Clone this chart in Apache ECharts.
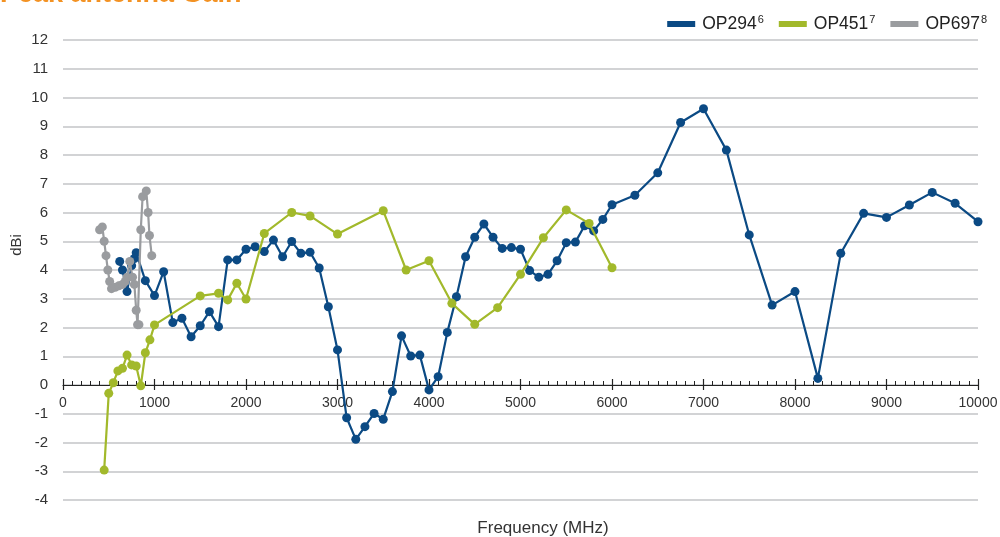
<!DOCTYPE html>
<html>
<head>
<meta charset="utf-8">
<script src="https://cdn.jsdelivr.net/npm/echarts@6/dist/echarts.min.js"></script>
<style>
  html, body { margin: 0; padding: 0; background: #fff; }
  #chart { width: 1000px; height: 537px; }
</style>
</head>
<body>
<div id="chart"></div>
<script>
// frequency in MHz, gain in dBi
const op294Freq = [620, 650, 700, 750, 780, 800, 900, 1000, 1100, 1200, 1300, 1400, 1500, 1600, 1700, 1800, 1900, 2000,
  2100, 2200, 2300, 2400, 2500, 2600, 2700, 2800, 2900, 3000, 3100, 3200, 3300, 3400, 3500, 3600, 3700, 3800, 3900, 4000,
  4100, 4200, 4300, 4400, 4500, 4600, 4700, 4800, 4900, 5000, 5100, 5200, 5300, 5400, 5500, 5600, 5700, 5800, 5900, 6000,
  6250, 6500, 6750, 7000, 7250, 7500, 7750, 8000, 8250, 8500, 8750, 9000, 9250, 9500, 9750, 10000]
const op294Gain = [4.3, 4.0, 3.25, 4.15, 4.4, 4.6, 3.63, 3.11, 3.94, 2.17, 2.32, 1.68, 2.06, 2.55, 2.03, 4.35, 4.35, 4.72,
  4.81, 4.64, 5.04, 4.46, 4.99, 4.58, 4.62, 4.07, 2.72, 1.22, -1.14, -1.89, -1.45, -0.99, -1.19, -0.23, 1.71, 1.01, 1.04, -0.17,
  0.29, 1.83, 3.07, 4.46, 5.14, 5.6, 5.14, 4.75, 4.78, 4.72, 3.98, 3.75, 3.85, 4.32, 4.95, 4.97, 5.54, 5.36, 5.76, 6.27,
  6.6, 7.38, 9.13, 9.61, 8.17, 5.22, 2.78, 3.25, 0.23, 4.58, 5.97, 5.83, 6.26, 6.7, 6.32, 5.68]

const op451Freq = [450, 500, 550, 600, 650, 700, 750, 800, 850, 900, 950, 1000, 1500, 1700, 1800, 1900, 2000, 2200, 2500,
  2700, 3000, 3500, 3750, 4000, 4250, 4500, 4750, 5000, 5250, 5500, 5750, 6000]
const op451Gain = [-2.96, -0.29, 0.08, 0.49, 0.58, 1.04, 0.7, 0.66, -0.03, 1.12, 1.57, 2.09, 3.1, 3.19, 2.96, 3.54, 2.99, 5.27, 6.0,
  5.88, 5.25, 6.06, 4.0, 4.32, 2.84, 2.11, 2.69, 3.85, 5.12, 6.09, 5.62, 4.08]

const op697Freq = [400, 430, 450, 470, 490, 510, 530, 570, 610, 650, 680, 700, 730, 760, 780, 800, 815, 830, 850, 870, 910, 930, 945, 970]
const op697Gain = [5.4, 5.5, 5.0, 4.5, 4.0, 3.6, 3.35, 3.4, 3.45, 3.5, 3.6, 3.75, 4.3, 3.75, 3.5, 2.6, 2.1, 2.1, 5.4, 6.55, 6.75, 6.0, 5.2, 4.5]

const seriesNames = ['OP294', 'OP451', 'OP697']
const seriesNotes = ['6', '7', '8']
const seriesColors = ['#0b4a84', '#a2b92b', '#9a9c9f']

const zip = (xs, ys) => xs.map((x, i) => [x, ys[i]])
const dataSets = [zip(op294Freq, op294Gain), zip(op451Freq, op451Gain), zip(op697Freq, op697Gain)]

const yMin = -4
const yMax = 12
const gridTop = 40
const gridBottom = 37
const chartHeight = 537
// x axis drawn at gain 0: shift it up from the grid bottom
const zeroOffset = -(0 - yMin) / (yMax - yMin) * (chartHeight - gridTop - gridBottom)

const chart = echarts.init(document.getElementById('chart'))
const fontFamily = '"Liberation Sans", Arial, sans-serif'

chart.setOption({
  animation: false,
  textStyle: { fontFamily: fontFamily },
  graphic: [{
    // title sits mostly above the visible area
    type: 'text',
    x: 0,
    y: -19,
    z: 100,
    style: {
      text: 'Peak antenna Gain',
      fill: '#f39223',
      font: 'bold 27px ' + fontFamily,
      verticalAlign: 'top'
    }
  }, {
    type: 'text',
    x: 543,
    y: 528,
    style: {
      text: 'Frequency (MHz)',
      fill: '#333',
      font: '17px ' + fontFamily,
      align: 'center',
      verticalAlign: 'middle'
    }
  }, {
    type: 'text',
    x: 17,
    y: 245,
    rotation: Math.PI / 2,
    style: {
      text: 'dBi',
      fill: '#333',
      font: '15px ' + fontFamily,
      align: 'center',
      verticalAlign: 'middle'
    }
  }],
  legend: {
    top: 9,
    right: 8,
    itemWidth: 28,
    itemHeight: 6,
    itemGap: 15,
    icon: 'rect',
    data: seriesNames,
    formatter: function(name) {
      const i = seriesNames.indexOf(name)
      return name + '{sup|' + seriesNotes[i] + '}'
    },
    textStyle: {
      color: '#222',
      fontSize: 17.5,
      padding: [0, 0, 0, 2],
      rich: {
        sup: { fontSize: 11, color: '#222', verticalAlign: 'top', padding: [0, 0, 9, 1] }
      }
    }
  },
  grid: {
    left: 63,
    right: 22,
    top: gridTop,
    bottom: gridBottom,
    outerBoundsMode: 'none',
    containLabel: false
  },
  xAxis: [{
    type: 'value',
    min: 0,
    max: 10000,
    interval: 1000,
    offset: zeroOffset,
    axisLine: { onZero: false, lineStyle: { color: '#222', width: 1.2 } },
    axisTick: { show: true, inside: true, length: 6, lineStyle: { color: '#222', width: 1.2 } },
    minorTick: { show: true, splitNumber: 10, length: 4, lineStyle: { color: '#222', width: 1 } },
    axisLabel: { color: '#333', fontSize: 14, margin: 11, formatter: v => String(v) },
    splitLine: { show: false }
  }, {
    type: 'value',
    min: 0,
    max: 10000,
    interval: 1000,
    position: 'bottom',
    offset: zeroOffset,
    axisLine: { show: false, onZero: false },
    axisTick: { show: true, inside: false, length: 5, lineStyle: { color: '#222', width: 1.2 } },
    axisLabel: { show: false },
    splitLine: { show: false }
  }],
  yAxis: {
    type: 'value',
    min: yMin,
    max: yMax,
    interval: 1,
    axisLine: { show: false },
    axisTick: { show: false },
    axisLabel: { color: '#333', fontSize: 15, margin: 15 },
    splitLine: { lineStyle: { color: '#c3c5c7', width: 1.6 } }
  },
  series: seriesNames.map((name, i) => ({
    name: name,
    type: 'line',
    xAxisIndex: 0,
    data: dataSets[i],
    color: seriesColors[i],
    symbol: 'circle',
    symbolSize: 9,
    lineStyle: { width: 2.2 },
    z: 3 + i
  }))
})
</script>
</body>
</html>
